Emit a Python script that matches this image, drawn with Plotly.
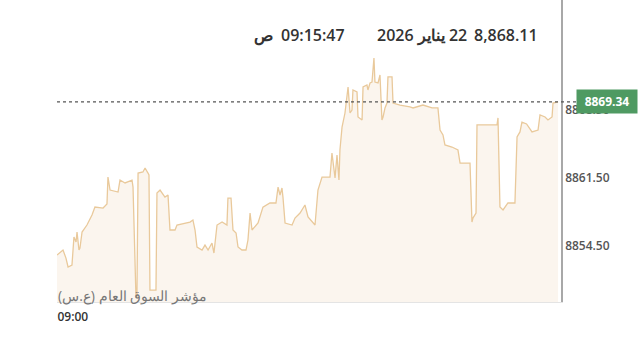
import plotly.graph_objects as go

# minutes since 09:00
minutes = [0, 2.1, 4.3, 6.4, 7.9, 10.7, 12.1, 13.6, 14.3, 15.7, 16.4, 17.9, 21.4, 25.0, 27.1,
           32.9, 35.7, 36.4, 37.9, 43.6, 45.0, 48.6, 50.7, 53.6, 54.3, 55.7, 56.4, 57.1, 57.9,
           61.4, 62.9, 65.0, 65.7, 66.4, 70.7, 71.4, 73.6, 77.1, 79.3, 80.7, 84.3, 85.7, 95.0,
           97.1, 98.6, 100.0, 103.6, 105.7, 107.9, 110.7, 112.1, 114.3, 117.9, 121.4, 122.1,
           124.3, 125.7, 127.9, 129.3, 132.1, 135.0, 136.4, 137.9, 139.3, 143.6, 147.1, 152.1,
           156.4, 157.9, 159.3, 160.7, 161.4, 162.9, 167.9, 170.0, 173.6, 177.1, 179.3, 184.3,
           186.4, 189.3, 195.0, 196.4, 198.6, 200.0, 201.4, 202.1, 203.6, 205.7, 207.9, 209.3,
           210.7, 211.4, 214.3, 215.0, 217.9, 218.6, 221.4, 222.1, 223.6, 225.0, 226.4, 227.1,
           229.3, 230.7, 232.1, 232.9, 234.3, 235.7, 236.4, 239.3, 240.0, 245.0, 252.1, 254.3,
           261.4, 267.9, 272.1, 273.6, 275.7, 277.1, 282.1, 286.4, 287.9, 295.0, 296.4, 297.1,
           299.3, 300.0, 314.3, 315.0, 316.4, 318.6, 322.1, 327.1, 328.6, 330.7, 332.1, 335.4,
           339.3, 343.6, 345.0, 348.6, 350.7, 353.6, 354.3, 357.9]

index_values = [8853.57, 8853.78, 8854.09, 8853.26, 8852.34, 8852.54, 8855.43, 8854.91, 8855.94,
                8854.09, 8854.29, 8855.94, 8856.66, 8857.69, 8858.51, 8858.41, 8858.82, 8861.60,
                8860.26, 8860.06, 8861.29, 8860.99, 8861.09, 8861.29, 8860.57, 8854.09, 8849.25,
                8849.25, 8862.01, 8862.12, 8862.53, 8862.01, 8861.81, 8849.97, 8849.97, 8859.96,
                8860.26, 8859.54, 8859.75, 8856.15, 8856.15, 8856.66, 8856.97, 8857.18, 8856.15,
                8854.40, 8854.09, 8854.60, 8854.09, 8854.81, 8853.78, 8856.66, 8856.97, 8856.66,
                8859.44, 8859.44, 8856.15, 8855.84, 8854.40, 8854.09, 8854.09, 8855.12, 8857.90,
                8856.15, 8856.87, 8858.51, 8858.93, 8858.93, 8860.57, 8859.75, 8860.47, 8859.54,
                8856.87, 8856.66, 8857.38, 8857.90, 8858.72, 8857.49, 8856.66, 8860.26, 8861.60,
                8861.60, 8864.07, 8861.50, 8863.87, 8861.29, 8864.38, 8866.75, 8868.19, 8870.87,
                8868.19, 8868.50, 8870.56, 8870.35, 8867.78, 8867.47, 8870.87, 8871.07, 8870.56,
                8871.28, 8871.38, 8873.85, 8871.38, 8871.28, 8872.10, 8867.47, 8867.78, 8868.71,
                8869.22, 8871.90, 8871.90, 8869.22, 8869.01, 8868.81, 8868.71, 8869.01, 8868.71,
                8868.71, 8866.44, 8865.93, 8864.90, 8864.69, 8864.38, 8863.04, 8863.04, 8856.97,
                8857.38, 8857.90, 8866.96, 8866.96, 8867.68, 8858.51, 8858.21, 8858.93, 8858.93,
                8865.72, 8866.24, 8867.26, 8867.06, 8866.24, 8866.44, 8867.99, 8867.78, 8867.47,
                8867.78, 8869.22, 8869.34]

tick_values = [8854.50, 8861.50, 8868.50]
last_value = 8869.34
header_value = "8,868.11"
header_date = "22 يناير 2026"
header_time = "09:15:47\u2002ص"
index_name = "مؤشر السوق العام (ع.س)"
start_label = "09:00"

FONT = "Open Sans, Noto Sans, sans-serif"
RLE, PDF = "\u202b", "\u202c"

fig = go.Figure()
fig.add_trace(go.Scatter(
    x=minutes, y=index_values, mode="lines",
    line=dict(color="#e9c99b", width=1.3),
    fill="tozeroy", fillcolor="#fbf5ee",
    hoverinfo="skip", showlegend=False,
))

fig.add_shape(type="line", xref="paper", x0=0, x1=1.03, yref="y", y0=last_value, y1=last_value,
              line=dict(color="#555555", width=1.2, dash="dot"), layer="above")

fig.add_annotation(xref="paper", x=1.091, yref="y", y=last_value, text=f"<b>{last_value:.2f}</b>",
                   showarrow=False, bgcolor="#4f9a62", font=dict(color="white", size=12, family=FONT),
                   borderpad=3, xanchor="center", yanchor="middle", width=54)

title_font = dict(color="#333333", size=16, family=FONT, weight=600)
title_y = 0.884
for text, xr in [(header_value, 540), (RLE + header_date + PDF, 469), (RLE + header_time + PDF, 347)]:
    fig.add_annotation(xref="paper", x=(xr - 57) / 504, yref="paper", y=title_y, text=text,
                       showarrow=False, xanchor="right", yanchor="middle", font=title_font)

fig.add_annotation(xref="paper", x=(209 - 57) / 504, yref="paper", y=0.02, text=RLE + index_name + PDF,
                   showarrow=False, xanchor="right", yanchor="middle",
                   font=dict(color="#777777", size=14, family=FONT))

fig.update_layout(
    width=640, height=337,
    margin=dict(l=57, r=79, t=0, b=35),
    paper_bgcolor="white", plot_bgcolor="white",
    font=dict(family=FONT),
    xaxis=dict(range=[0, 360], showgrid=False, zeroline=False,
               showline=True, linecolor="#e4e4e4", linewidth=1,
               tickvals=[0], ticktext=[start_label], ticklabelposition="outside right",
               ticklabelstandoff=4,
               ticks="", tickfont=dict(size=12, color="#333333", weight=600)),
    yaxis=dict(range=[8848.74, 8879.82], side="right", showgrid=False, zeroline=False,
               showline=True, linecolor="#a8a8a8", linewidth=1.5,
               tickvals=tick_values, tickformat=".2f", ticks="",
               tickfont=dict(size=12, color="#555555", weight=600)),
)

fig.write_html("out.html")
